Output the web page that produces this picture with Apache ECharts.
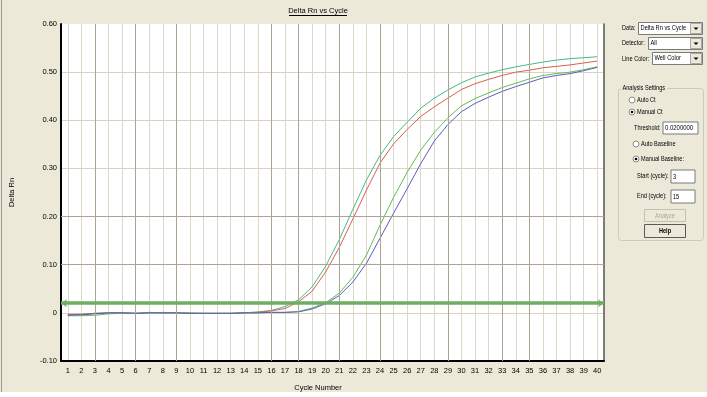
<!DOCTYPE html>
<html>
<head>
<meta charset="utf-8">
<script src="https://cdn.jsdelivr.net/npm/echarts@6/dist/echarts.min.js"></script>
<style>
  html, body { margin: 0; padding: 0; background: #fff; }
  #chart { width: 707px; height: 397px; }
</style>
</head>
<body>
<div id="chart"></div>
<script>
// cycle numbers and tick values
var cycles = []
for (var i = 1; i <= 40; i++) cycles.push(i)
var yTicks = [-0.1, 0, 0.1, 0.2, 0.3, 0.4, 0.5, 0.6]

// Delta Rn per cycle, one array per well
var wellTeal = [-0.004, -0.003, -0.001, 0, 0, -0.001, 0, 0, 0, -0.001, -0.001, -0.001, -0.001, 0, 0.002, 0.005, 0.013, 0.027, 0.054, 0.097,
  0.152, 0.215, 0.276, 0.327, 0.366, 0.396, 0.425, 0.446, 0.463, 0.478, 0.490, 0.498, 0.505, 0.511, 0.516, 0.521, 0.525, 0.528, 0.530, 0.532]
var wellRed = [-0.003, -0.003, -0.001, 0, 0, -0.001, 0.001, 0, 0, -0.001, -0.001, -0.001, -0.001, 0, 0.001, 0.004, 0.009, 0.023, 0.045, 0.085,
  0.136, 0.195, 0.255, 0.311, 0.351, 0.381, 0.408, 0.428, 0.446, 0.464, 0.476, 0.485, 0.493, 0.500, 0.504, 0.509, 0.512, 0.515, 0.519, 0.523]
var wellGreen = [-0.006, -0.006, -0.005, -0.002, -0.001, -0.001, 0, 0.001, 0, 0, -0.001, -0.001, -0.001, 0, 0, 0.001, 0.001, 0.003, 0.010, 0.021,
  0.041, 0.074, 0.120, 0.182, 0.240, 0.292, 0.338, 0.375, 0.405, 0.430, 0.445, 0.457, 0.468, 0.477, 0.486, 0.493, 0.497, 0.500, 0.505, 0.511]
var wellBlue = [-0.005, -0.004, -0.002, 0, 0, -0.001, 0, 0, 0, -0.001, -0.001, -0.001, -0.001, 0, 0, 0.001, 0.001, 0.002, 0.008, 0.019,
  0.036, 0.064, 0.103, 0.155, 0.207, 0.258, 0.310, 0.357, 0.391, 0.418, 0.435, 0.448, 0.460, 0.470, 0.479, 0.488, 0.493, 0.497, 0.503, 0.510]

var threshold = 0.02
// grid lines that show darker in the screenshot
var darkCycles = [3, 6, 9, 16, 18, 21, 24, 29, 33, 35]
var darkLevels = [0.1, 0.2]

var beige = '#ECE9D8'
var font = 'Liberation Sans'

function pairs(arr) {
  return arr.map(function (v, i) { return [cycles[i], v] })
}

function curve(name, data, color) {
  return {
    name: name,
    type: 'line',
    data: pairs(data),
    showSymbol: false,
    z: 4,
    lineStyle: { color: color, width: 1 },
    itemStyle: { color: color }
  }
}

// small helpers for the settings panel on the right
function txt(s, x, y, o) {
  o = o || {}
  return {
    type: 'text', x: x, y: y, scaleX: o.sx || 0.8, z: 20,
    style: {
      text: s, fontSize: o.size || 7, fontFamily: font, fontWeight: o.weight || 'normal',
      fill: o.color || '#000', textAlign: o.align || 'left', textVerticalAlign: 'middle'
    }
  }
}
function box(x, y, w, h, fill, stroke) {
  return { type: 'rect', z: 15, shape: { x: x, y: y, width: w, height: h },
    style: { fill: fill, stroke: stroke, lineWidth: 1 } }
}
function combo(x, y, w, h, s) {
  return [
    box(x + 0.5, y + 0.5, w, h, '#fff', '#7a7a7a'),
    box(x + w - 11.5, y + 1.5, 11, h - 2, beige, '#a8a8a8'),
    { type: 'polygon', z: 21, shape: { points: [[x + w - 8.5, y + h / 2 - 0.5], [x + w - 3.5, y + h / 2 - 0.5], [x + w - 6, y + h / 2 + 2]] },
      style: { fill: '#000' } },
    txt(s, x + 2.5, y + h / 2 + 0.5, { sx: 0.82 })
  ]
}
function radio(cx, cy, on) {
  var r = [{ type: 'circle', z: 16, shape: { cx: cx, cy: cy, r: 3 }, style: { fill: '#fff', stroke: '#8a8a8a', lineWidth: 1 } }]
  if (on) r.push({ type: 'circle', z: 17, shape: { cx: cx, cy: cy, r: 1.3 }, style: { fill: '#000' } })
  return r
}

var panel = [].concat(
  [{ type: 'rect', z: 0, shape: { x: 0, y: 392, width: 707, height: 5 }, style: { fill: '#fff' } },
   { type: 'line', z: 1, shape: { x1: 1.5, y1: 0, x2: 1.5, y2: 392 }, style: { stroke: '#9a9a9a', lineWidth: 1 } },
   { type: 'text', x: 318, y: 11, z: 20,
     style: { text: 'Delta Rn vs Cycle', fontSize: 7.5, fontFamily: font, fill: '#000', textAlign: 'center', textVerticalAlign: 'middle' } },
   { type: 'line', z: 20, shape: { x1: 289, y1: 15.5, x2: 347, y2: 15.5 }, style: { stroke: '#000', lineWidth: 1 } },
   { type: 'text', x: 318, y: 388, z: 20,
     style: { text: 'Cycle Number', fontSize: 7.5, fontFamily: font, fill: '#000', textAlign: 'center', textVerticalAlign: 'middle' } }],
  [txt('Data:', 622, 28.5)], combo(638, 22, 64, 12, 'Delta Rn vs Cycle'),
  [txt('Detector:', 622, 43.5)], combo(648, 37, 54, 12, 'All'),
  [txt('Line Color:', 622, 59)], combo(652, 52, 50, 12, 'Well Color'),
  [{ type: 'rect', z: 12, shape: { x: 618.5, y: 88.5, width: 85, height: 152, r: 3 }, style: { fill: 'none', stroke: '#cdcab8', lineWidth: 1 } },
   box(621, 85, 46, 7, beige, 'none'),
   txt('Analysis Settings', 622.5, 88.5)],
  radio(632, 100, false), [txt('Auto Ct', 637, 100.5)],
  radio(632, 112, true), [txt('Manual Ct', 637, 112.5)],
  [txt('Threshold:', 634, 128.5), box(663, 122, 35, 12, '#fff', '#7a7a7a'), txt('0.0200000', 665, 128.5, { sx: 0.85 })],
  radio(636, 144, false), [txt('Auto Baseline', 641, 144.5)],
  radio(636, 159, true), [txt('Manual Baseline:', 641, 159.5)],
  [txt('Start (cycle):', 637, 176.5), box(671, 170, 24, 13, '#fff', '#7a7a7a'), txt('3', 673, 177)],
  [txt('End (cycle):', 637, 196.5), box(671, 190, 24, 13, '#fff', '#7a7a7a'), txt('15', 673, 197)],
  [box(644.5, 209.5, 41, 12, beige, '#c4c0b0'), txt('Analyze', 665, 215.8, { align: 'center', color: '#aca899' })],
  [box(644.5, 224.5, 41, 13, beige, '#5a5a5a'), txt('Help', 665, 231.3, { align: 'center', weight: 'bold' })]
)

var chart = echarts.init(document.getElementById('chart'), null, { renderer: 'canvas' })
chart.setOption({
  backgroundColor: beige,
  animation: false,
  grid: { left: 58, right: 103, top: 24, bottom: 36, show: true, backgroundColor: '#fff', borderWidth: 0 },
  xAxis: {
    type: 'value',
    min: 0.5,
    max: 40.5,
    axisLine: { onZero: false, lineStyle: { color: '#000', width: 2 } },
    axisTick: { show: false, customValues: cycles },
    axisLabel: { customValues: cycles, color: '#000', fontSize: 7.5, fontFamily: font, margin: 6 },
    splitLine: { show: true, lineStyle: { color: '#dcd8c8', width: 1 } }
  },
  yAxis: [{
    type: 'value',
    min: -0.1,
    max: 0.6,
    interval: 0.1,
    name: 'Delta Rn',
    nameLocation: 'middle',
    nameGap: 45,
    nameTextStyle: { color: '#000', fontSize: 7.5, fontFamily: font },
    axisLine: { show: true, lineStyle: { color: '#000', width: 2 } },
    axisTick: { show: false },
    axisLabel: {
      color: '#000', fontSize: 7.5, fontFamily: font, margin: 4,
      formatter: function (v) { return Math.abs(v) < 1e-9 ? '0' : v.toFixed(2) }
    },
    splitLine: { show: true, showMaxLine: false, lineStyle: { color: '#d8d4c2', width: 1 } }
  }, {
    type: 'value',
    position: 'right',
    min: -0.1,
    max: 0.6,
    interval: 0.1,
    axisLine: { show: true, lineStyle: { color: '#555', width: 1.5 } },
    axisTick: { show: false },
    axisLabel: { show: false },
    splitLine: { show: false }
  }],
  series: [
    {
      // darker grid lines
      type: 'line', data: [], z: 1, silent: true,
      markLine: {
        silent: true, symbol: 'none', label: { show: false },
        lineStyle: { color: '#aaa491', width: 1, type: 'solid' },
        data: darkCycles.map(function (c) { return { xAxis: c } })
          .concat(darkLevels.map(function (v) { return { yAxis: v } }))
      }
    },
    {
      // threshold bar
      type: 'line', data: [], z: 2, silent: true,
      markLine: {
        silent: true, symbol: ['arrow', 'arrow'], symbolSize: [6, 6], label: { show: false },
        lineStyle: { color: '#6fae62', width: 3.5, type: 'solid', opacity: 1 },
        itemStyle: { color: '#3f8a3a' },
        data: [{ yAxis: threshold }]
      }
    },
    curve('A1', wellTeal, '#45b98c'),
    curve('A2', wellRed, '#d8604e'),
    curve('A3', wellGreen, '#62bc5a'),
    curve('A4', wellBlue, '#5e5cc0')
  ],
  graphic: { elements: panel }
})
</script>
</body>
</html>
